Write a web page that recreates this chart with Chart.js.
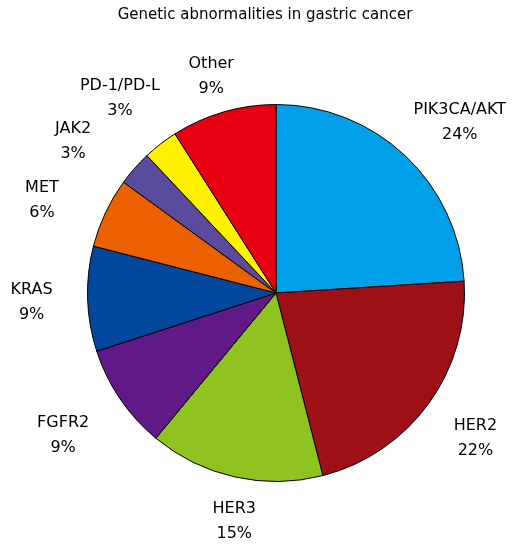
<!DOCTYPE html>
<html>
<head>
<meta charset="utf-8">
<script src="https://cdn.jsdelivr.net/npm/chart.js@4"></script>
<style>
  html, body { margin: 0; padding: 0; background: #fff; }
  #wrap { width: 513px; height: 547px; }
</style>
</head>
<body>
<div id="wrap"><canvas id="pieChart" width="513" height="547"></canvas></div>
<script>
const chartTitle = 'Genetic abnormalities in gastric cancer';
const categories = ['PIK3CA/AKT', 'HER2', 'HER3', 'FGFR2', 'KRAS', 'MET', 'JAK2', 'PD-1/PD-L', 'Other'];
const percentages = [24, 22, 15, 9, 9, 6, 3, 3, 9];
const sliceColors = ['#00a0e9', '#9e1016', '#8fc31f', '#601986', '#00479d', '#eb6100', '#5a4b9d', '#fff100', '#e60012'];

const FONT = '"DejaVu Sans", sans-serif';
// small hand tweaks so the labels sit like in the original figure
const labelNudge = [[15, 9], [0, 0], [12, -12], [-9, 4], [2, 2], [-11, 12], [-18, 11], [-5, 0], [4, 20]];

// title + outside labels
const labelPlugin = {
  id: 'outsideLabels',
  afterDraw(chart) {
    const ctx = chart.ctx;
    ctx.save();
    ctx.fillStyle = '#000';
    ctx.textAlign = 'center';
    ctx.textBaseline = 'middle';
    ctx.font = '15px ' + FONT;
    ctx.fillText(chartTitle, 265, 15);

    ctx.font = '16px ' + FONT;
    const arcs = chart.getDatasetMeta(0).data;
    arcs.forEach((arc, i) => {
      const p = arc.getProps(['x', 'y', 'startAngle', 'endAngle', 'outerRadius'], true);
      const mid = (p.startAngle + p.endAngle) / 2;
      const r = p.outerRadius + 58;
      const x = p.x + Math.cos(mid) * r + labelNudge[i][0];
      const y = p.y + Math.sin(mid) * r + labelNudge[i][1];
      ctx.fillText(categories[i], x, y - 12.5);
      ctx.fillText(percentages[i] + '%', x, y + 12.5);
    });
    ctx.restore();
  }
};

new Chart(document.getElementById('pieChart'), {
  type: 'pie',
  data: {
    labels: categories,
    datasets: [{
      data: percentages,
      backgroundColor: sliceColors,
      borderColor: '#000',
      borderWidth: 1
    }]
  },
  options: {
    responsive: false,
    animation: false,
    layout: { padding: { left: 87, right: 48, top: 104, bottom: 65 } },
    plugins: {
      legend: { display: false },
      tooltip: { enabled: false },
      title: { display: false }
    }
  },
  plugins: [labelPlugin]
});
</script>
</body>
</html>
